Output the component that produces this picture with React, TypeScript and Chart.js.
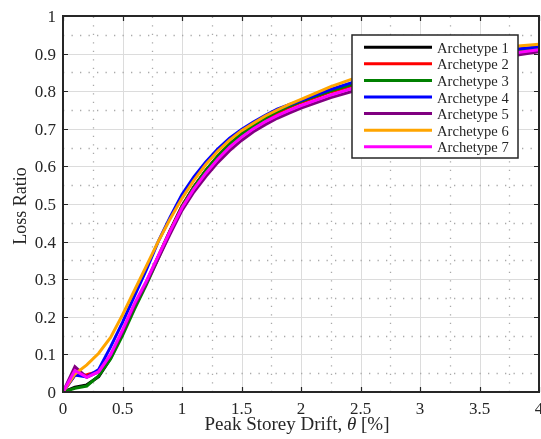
import React, { useEffect, useRef } from "react";
import { Chart, registerables } from "chart.js";

Chart.register(...registerables);

// ---- data ----
const THETA = [0, 0.1, 0.2, 0.3, 0.4, 0.5, 0.6, 0.7, 0.8, 0.9, 1.0, 1.1, 1.2, 1.3, 1.4, 1.5, 1.6, 1.7, 1.8, 1.9, 2.0, 2.25, 2.5, 2.75, 3.0, 3.25, 3.5, 3.75, 4.0];

const ARCH1 = [0, 0.013, 0.019, 0.041, 0.09, 0.155, 0.225, 0.29, 0.36, 0.43, 0.495, 0.546, 0.589, 0.627, 0.659, 0.686, 0.708, 0.728, 0.745, 0.759, 0.772, 0.8, 0.823, 0.843, 0.862, 0.878, 0.892, 0.905, 0.915];
const ARCH2 = [0, 0.045, 0.046, 0.055, 0.095, 0.158, 0.228, 0.292, 0.36, 0.428, 0.494, 0.544, 0.587, 0.624, 0.656, 0.683, 0.705, 0.725, 0.742, 0.757, 0.77, 0.798, 0.821, 0.841, 0.86, 0.876, 0.89, 0.903, 0.913];
const ARCH3 = [0, 0.01, 0.016, 0.043, 0.088, 0.15, 0.22, 0.285, 0.355, 0.425, 0.493, 0.545, 0.589, 0.627, 0.659, 0.686, 0.708, 0.728, 0.746, 0.76, 0.773, 0.801, 0.824, 0.844, 0.863, 0.879, 0.893, 0.905, 0.915];
const ARCH4 = [0, 0.045, 0.04, 0.06, 0.12, 0.185, 0.255, 0.325, 0.4, 0.465, 0.525, 0.572, 0.612, 0.646, 0.675, 0.698, 0.718, 0.736, 0.752, 0.764, 0.775, 0.805, 0.83, 0.852, 0.87, 0.886, 0.899, 0.91, 0.918];
const ARCH5 = [0, 0.067, 0.039, 0.054, 0.098, 0.16, 0.23, 0.29, 0.355, 0.42, 0.483, 0.532, 0.573, 0.61, 0.642, 0.669, 0.692, 0.711, 0.728, 0.742, 0.755, 0.783, 0.806, 0.828, 0.848, 0.865, 0.88, 0.893, 0.905];
const ARCH6 = [0, 0.048, 0.072, 0.103, 0.145, 0.205, 0.27, 0.335, 0.4, 0.46, 0.515, 0.563, 0.605, 0.64, 0.67, 0.695, 0.715, 0.734, 0.75, 0.765, 0.778, 0.812, 0.84, 0.862, 0.882, 0.897, 0.909, 0.918, 0.925];
const ARCH7 = [0, 0.057, 0.039, 0.054, 0.1, 0.165, 0.235, 0.295, 0.362, 0.428, 0.49, 0.54, 0.582, 0.619, 0.651, 0.678, 0.7, 0.719, 0.735, 0.749, 0.762, 0.79, 0.814, 0.835, 0.855, 0.872, 0.887, 0.9, 0.91];

const SERIES = [ARCH1, ARCH2, ARCH3, ARCH4, ARCH5, ARCH6, ARCH7];
const SERIES_LABELS = ["Archetype 1", "Archetype 2", "Archetype 3", "Archetype 4", "Archetype 5", "Archetype 6", "Archetype 7"];
const SERIES_COLORS = ["#000000", "#ff0000", "#008000", "#0000ff", "#800080", "#ffa500", "#ff00ff"];

const X_TICKS = [0, 0.5, 1, 1.5, 2, 2.5, 3, 3.5, 4];
const X_TICK_LABELS = ["0", "0.5", "1", "1.5", "2", "2.5", "3", "3.5", "4"];
const Y_TICKS = [0, 0.1, 0.2, 0.3, 0.4, 0.5, 0.6, 0.7, 0.8, 0.9, 1];
const Y_TICK_LABELS = ["0", "0.1", "0.2", "0.3", "0.4", "0.5", "0.6", "0.7", "0.8", "0.9", "1"];

const X_TITLE_PARTS = [
  { text: "Peak Storey Drift, ", italic: false },
  { text: "θ", italic: true },
  { text: " [%]", italic: false },
];
const Y_TITLE = "Loss Ratio";

const FONT = "'Liberation Serif', 'Times New Roman', serif";
const INK = "#262626";

const framePlugin = {
  id: "matlabFrame",
  beforeDatasetsDraw(chart: any) {
    const { ctx, chartArea: a, scales } = chart;
    const x = scales.x;
    const y = scales.y;
    ctx.save();
    ctx.strokeStyle = "#dcdcdc";
    ctx.lineWidth = 1;
    ctx.setLineDash([]);
    ctx.beginPath();
    X_TICKS.forEach((t) => {
      const px = Math.round(x.getPixelForValue(t)) + 0.5;
      ctx.moveTo(px, a.top);
      ctx.lineTo(px, a.bottom);
    });
    Y_TICKS.forEach((t) => {
      const py = Math.round(y.getPixelForValue(t)) + 0.5;
      ctx.moveTo(a.left, py);
      ctx.lineTo(a.right, py);
    });
    ctx.stroke();
    ctx.strokeStyle = "#a9a9a9";
    ctx.lineWidth = 1.3;
    ctx.setLineDash([1.3, 7.2]);
    for (let i = 0; i < X_TICKS.length - 1; i++) {
      const v = (X_TICKS[i] + X_TICKS[i + 1]) / 2;
      const px = Math.round(x.getPixelForValue(v)) + 0.5;
      ctx.beginPath();
      ctx.moveTo(px, a.bottom);
      ctx.lineTo(px, a.top);
      ctx.stroke();
    }
    for (let i = 0; i < Y_TICKS.length - 1; i++) {
      const v = (Y_TICKS[i] + Y_TICKS[i + 1]) / 2;
      const py = Math.round(y.getPixelForValue(v)) + 0.5;
      ctx.beginPath();
      ctx.moveTo(a.left, py);
      ctx.lineTo(a.right, py);
      ctx.stroke();
    }
    ctx.restore();
  },
  afterDatasetsDraw(chart: any) {
    const { ctx, chartArea: a, scales } = chart;
    const x = scales.x;
    const y = scales.y;
    ctx.save();
    ctx.setLineDash([]);
    ctx.strokeStyle = INK;
    ctx.lineWidth = 1.2;
    ctx.beginPath();
    const tl = 5;
    X_TICKS.forEach((t) => {
      const px = Math.round(x.getPixelForValue(t)) + 0.5;
      ctx.moveTo(px, a.bottom);
      ctx.lineTo(px, a.bottom - tl);
      ctx.moveTo(px, a.top);
      ctx.lineTo(px, a.top + tl);
    });
    Y_TICKS.forEach((t) => {
      const py = Math.round(y.getPixelForValue(t)) + 0.5;
      ctx.moveTo(a.left, py);
      ctx.lineTo(a.left + tl, py);
      ctx.moveTo(a.right, py);
      ctx.lineTo(a.right - tl, py);
    });
    ctx.stroke();
    ctx.lineWidth = 2;
    ctx.strokeStyle = INK;
    ctx.strokeRect(a.left, a.top, a.right - a.left, a.bottom - a.top);

    ctx.fillStyle = INK;
    ctx.font = `17px ${FONT}`;
    ctx.textBaseline = "alphabetic";
    ctx.textAlign = "center";
    X_TICKS.forEach((t, i) => {
      const px = x.getPixelForValue(t);
      ctx.fillText(X_TICK_LABELS[i], px, a.bottom + 22);
    });
    ctx.textAlign = "right";
    Y_TICKS.forEach((t, i) => {
      const py = y.getPixelForValue(t);
      ctx.fillText(Y_TICK_LABELS[i], a.left - 7, py + 6);
    });

    const titleSize = 19;
    const fonts = X_TITLE_PARTS.map((p) => `${p.italic ? "italic " : ""}${titleSize}px ${FONT}`);
    let total = 0;
    const widths = X_TITLE_PARTS.map((p, i) => {
      ctx.font = fonts[i];
      const w = ctx.measureText(p.text).width;
      total += w;
      return w;
    });
    let cx = (a.left + a.right) / 2 - 4 - total / 2;
    ctx.textAlign = "left";
    X_TITLE_PARTS.forEach((p, i) => {
      ctx.font = fonts[i];
      ctx.fillText(p.text, cx, a.bottom + 38);
      cx += widths[i];
    });

    ctx.save();
    ctx.translate(26, (a.top + a.bottom) / 2 + 2);
    ctx.rotate(-Math.PI / 2);
    ctx.font = `18px ${FONT}`;
    ctx.textAlign = "center";
    ctx.textBaseline = "alphabetic";
    ctx.fillText(Y_TITLE, 0, 0);
    ctx.restore();

    const bx = 352, by = 35, bw = 166, bh = 123;
    ctx.fillStyle = "#ffffff";
    ctx.fillRect(bx, by, bw, bh);
    ctx.lineWidth = 1.5;
    ctx.strokeStyle = INK;
    ctx.strokeRect(bx, by, bw, bh);
    ctx.font = `14.6px ${FONT}`;
    ctx.textAlign = "left";
    ctx.textBaseline = "alphabetic";
    const ds = chart.data.datasets;
    ds.forEach((d: any, i: number) => {
      const ly = by + 12.3 + i * 16.57;
      ctx.strokeStyle = d.borderColor;
      ctx.lineWidth = 3;
      ctx.beginPath();
      ctx.moveTo(bx + 12, ly);
      ctx.lineTo(bx + 80, ly);
      ctx.stroke();
      ctx.fillStyle = INK;
      ctx.fillText(d.label, bx + 85, ly + 5.5);
    });
    ctx.restore();
  },
};

export default function App() {
  const canvasRef = useRef<HTMLCanvasElement | null>(null);

  useEffect(() => {
    const canvas = canvasRef.current;
    if (!canvas) return;
    const datasets = SERIES.map((vals, i) => ({
      label: SERIES_LABELS[i],
      data: THETA.map((t, j) => ({ x: t, y: vals[j] })),
      borderColor: SERIES_COLORS[i],
      backgroundColor: SERIES_COLORS[i],
      borderWidth: 3,
      pointRadius: 0,
      tension: 0,
      fill: false,
      order: SERIES.length - 1 - i,
    }));
    const chart = new Chart(canvas, {
      type: "line",
      data: { datasets },
      options: {
        responsive: false,
        devicePixelRatio: 1,
        animation: false,
        layout: { padding: { left: 63, right: 2, top: 16, bottom: 47 } },
        plugins: { legend: { display: false }, tooltip: { enabled: false } },
        scales: {
          x: { type: "linear", min: 0, max: 4, display: false },
          y: { type: "linear", min: 0, max: 1, display: false },
        },
      },
      plugins: [framePlugin],
    } as any);
    return () => chart.destroy();
  }, []);

  return (
    <div style={{ position: "fixed", left: 0, top: 0, width: 541, height: 439, background: "#ffffff" }}>
      <canvas ref={canvasRef} width={541} height={439} style={{ display: "block" }} />
    </div>
  );
}
